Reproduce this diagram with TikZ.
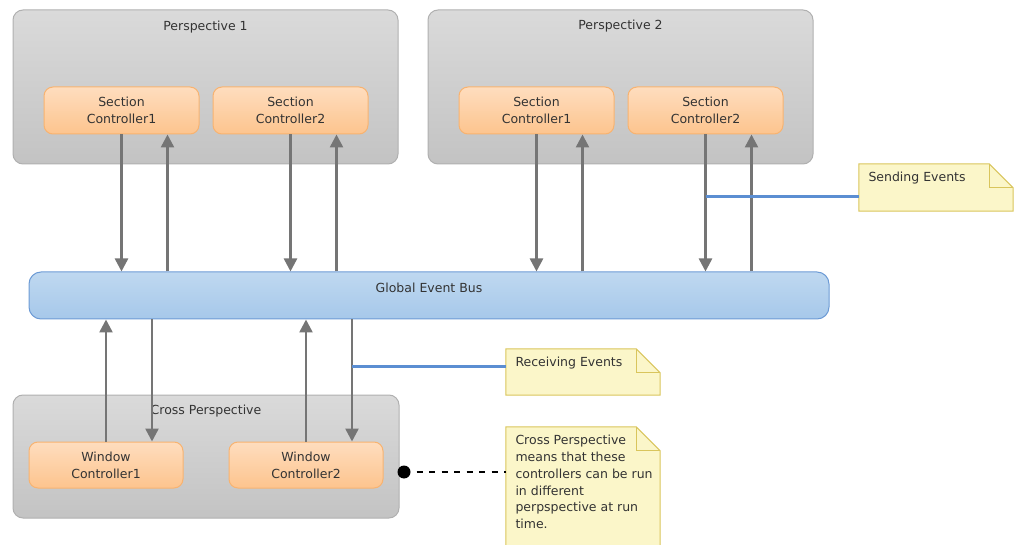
\documentclass[tikz,border=0pt]{standalone}
\usepackage{fontspec}
\setmainfont{DejaVu Sans}
\usetikzlibrary{arrows.meta,calc}
\definecolor{perspTop}{HTML}{DADADA}
\definecolor{perspBot}{HTML}{C3C3C3}
\definecolor{perspLine}{HTML}{B0B0B0}
\definecolor{ctrlTop}{HTML}{FEDDBE}
\definecolor{ctrlBot}{HTML}{FDC48E}
\definecolor{ctrlLine}{HTML}{F8B370}
\definecolor{busTop}{HTML}{BFD8F0}
\definecolor{busBot}{HTML}{A6C8EA}
\definecolor{busLine}{HTML}{6D9BD5}
\definecolor{arrowGray}{HTML}{757575}
\definecolor{blueLine}{HTML}{5B8ED2}
\definecolor{noteFill}{HTML}{FBF6C9}
\definecolor{noteLine}{HTML}{D9C55C}
\definecolor{txt}{HTML}{333333}
\begin{document}
\begin{tikzpicture}[x=1pt,y=-1pt,
  font=\fontsize{12.5}{16.7}\selectfont,
  every node/.style={text=txt},
  persp/.style={draw=perspLine, line width=1pt, top color=perspTop, bottom color=perspBot,
    rounded corners=10pt, minimum width=385pt, minimum height=154pt, inner sep=0pt},
  ctrl/.style={draw=ctrlLine, line width=1pt, top color=ctrlTop, bottom color=ctrlBot,
    rounded corners=9pt, minimum width=155pt, minimum height=47pt, inner sep=0pt, align=center},
  bus/.style={draw=busLine, line width=1pt, top color=busTop, bottom color=busBot,
    rounded corners=12pt, minimum width=800pt, minimum height=47pt, inner sep=0pt},
  title/.style={inner sep=0pt},
  notebox/.style={inner sep=0pt, minimum width=154pt},
  notedraw/.style={draw=noteLine, fill=noteFill, line width=1pt},
  notetext/.style={anchor=north west, inner sep=0pt, align=left},
  arr/.style={draw=arrowGray, line width=2.5pt, -{Triangle[length=13pt,width=13pt]}},
  bl/.style={draw=blueLine, line width=3pt},
  dashline/.style={draw=black, line width=1.2pt, dash pattern=on 6pt off 6.5pt}
]
\useasboundingbox (0,0) rectangle (1015,545);

% perspectives
\node[persp] (p1) at (205.5,87) {};
\node[title] (p1t) at (205.5,27) {Perspective 1};
\node[persp] (p2) at (620.5,87) {};
\node[title] (p2t) at (620.5,26) {Perspective 2};
\node[persp, minimum width=386pt, minimum height=123pt] (cp) at (206,456.5) {};
\node[title] (cpt) at (206,411) {Cross Perspective};

% controllers
\node[ctrl] (sc11) at (121.5,110.5) {Section\\Controller1};
\node[ctrl] (sc12) at (290.5,110.5) {Section\\Controller2};
\node[ctrl] (sc21) at (536.5,110.5) {Section\\Controller1};
\node[ctrl] (sc22) at (705.5,110.5) {Section\\Controller2};
\node[ctrl, minimum width=154pt, minimum height=46pt] (wc1) at (106,465) {Window\\Controller1};
\node[ctrl, minimum width=154pt, minimum height=46pt] (wc2) at (306,465) {Window\\Controller2};

% bus
\node[bus] (bus) at (429,295.5) {};
\node[title] (bust) at (429,288) {Global Event Bus};

% arrows top
\foreach \c in {sc11,sc12,sc21,sc22}{
  \draw[arr] (\c.south) -- (\c.south |- bus.north);
  \draw[arr] ([xshift=46pt]\c.south |- bus.north) -- ([xshift=46pt]\c.south);
}
% arrows bottom
\foreach \c in {wc1,wc2}{
  \draw[arr] (\c.north) -- (\c.north |- bus.south);
  \draw[arr] ([xshift=46pt]\c.north |- bus.south) -- ([xshift=46pt]\c.north);
}

% notes
\node[notebox, minimum height=47pt] (sn) at (936,187.5) {};
\node[notebox, minimum height=46pt] (rn) at (583,372) {};
\node[notebox, minimum height=133pt] (cn) at (583,493.5) {};
\foreach \n in {sn,rn,cn}{
  \draw[notedraw] (\n.north west) -- ([xshift=-24pt]\n.north east)
     -- ([yshift=-24pt]\n.north east) -- (\n.south east) -- (\n.south west) -- cycle;
  \draw[draw=noteLine, line width=1pt] ([xshift=-24pt]\n.north east)
     -- ([xshift=-24pt,yshift=-24pt]\n.north east) -- ([yshift=-24pt]\n.north east);
}
\node[notetext] (snt) at ([xshift=9.5pt,yshift=-8.5pt]sn.north west) {Sending Events};
\node[notetext] (rnt) at ([xshift=9.5pt,yshift=-8.5pt]rn.north west) {Receiving Events};
\node[notetext] (cnt) at ([xshift=9.5pt,yshift=-8.5pt]cn.north west)
  {Cross Perspective\\means that these\\controllers can be run\\in different\\perpspective at run\\time.};

% blue connectors
\coordinate (s1) at (sc22.south |- 0,197);
\draw[bl] (s1) -- (s1 -| sn.west);
\coordinate (r1) at ([xshift=46pt]wc2.north |- 0,367);
\draw[bl] (r1) -- (r1 -| rn.west);

% dashed connector
\coordinate (dot) at (404,472);
\draw[dashline] (dot) -- (dot -| cn.west);
\fill[black] (dot) circle (6.5pt);
\end{tikzpicture}
\end{document}
